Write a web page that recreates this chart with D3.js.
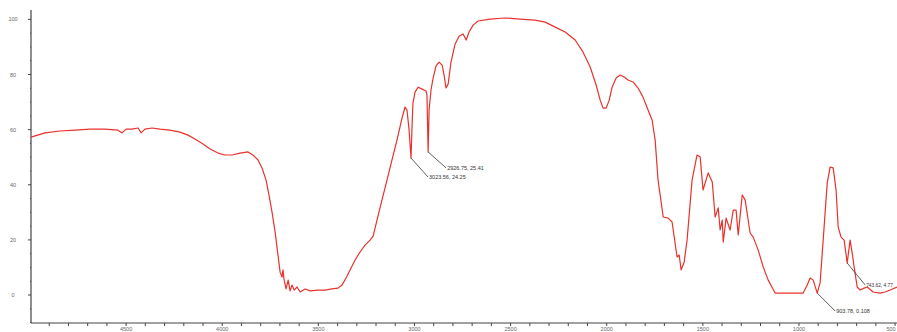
<!DOCTYPE html>
<html>
<head>
<meta charset="utf-8">
<script src="https://cdn.jsdelivr.net/npm/d3@7"></script>
<style>
  html, body { margin: 0; padding: 0; background: #fff; }
  svg { display: block; }
</style>
</head>
<body>
<svg id="chart" width="897" height="332"></svg>
<script>
// Wavenumber (cm-1) and transmittance (%)
const wavenumber = [4995,4922,4844,4766,4688,4610,4542,4521,4500,4469,4438,4422,4402,4365,4324,4272,4220,4178,4142,4100,4063,4022,3985,3949,3907,3866,3840,3814,3793,3772,3757,3741,3725,3710,3699,3689,3684,3678,3668,3657,3647,3637,3626,3611,3595,3569,3543,3501,3465,3429,3398,3377,3356,3335,3309,3283,3257,3231,3215,3195,3169,3143,3117,3091,3065,3049,3039,3028,3018,3013,3008,2997,2981,2960,2940,2935,2929,2924,2914,2903,2888,2872,2856,2846,2836,2825,2810,2789,2768,2747,2731,2716,2695,2669,2607,2529,2451,2373,2320,2268,2216,2164,2123,2086,2055,2034,2019,2003,1987,1972,1951,1930,1909,1889,1863,1837,1811,1785,1764,1748,1733,1706,1680,1660,1634,1623,1613,1597,1582,1556,1530,1514,1499,1472,1451,1436,1420,1410,1399,1394,1379,1358,1342,1327,1316,1295,1280,1254,1238,1212,1186,1160,1124,1046,978,957,942,926,905,890,874,853,838,822,807,796,781,765,749,734,723,713,697,682,661,645,614,578,552,526,489];
const transmittance = [57.3,58.8,59.5,59.8,60.2,60.2,59.8,58.8,60.2,60.2,60.6,58.8,60.2,60.6,60.2,59.8,59.1,58.0,56.6,54.8,53.0,51.5,50.8,50.8,51.5,51.9,50.8,49.0,46.1,41.7,36.3,30.1,22.9,14.5,8.3,6.5,9.1,5.4,2.2,5.4,1.5,3.6,1.8,2.9,1.1,2.2,1.5,1.8,1.8,2.2,2.5,3.6,6.2,9.1,12.7,15.6,18.1,19.9,21.4,27.2,34.5,41.7,49.0,56.2,64.2,68.2,67.1,59.8,49.7,60.6,69.6,73.6,75.4,74.7,74.0,72.5,51.9,67.1,74.4,78.7,83.1,84.5,83.4,79.8,75.1,76.5,84.5,91.0,93.9,94.7,92.5,95.4,97.9,99.4,100.1,100.5,100.1,99.7,99.0,97.2,95.4,92.5,88.1,82.7,76.2,70.7,67.8,67.8,70.7,75.4,78.7,79.8,79.1,78.0,77.3,75.1,71.8,67.1,63.5,56.2,41.7,28.3,27.9,26.5,13.8,14.5,9.1,12.0,19.9,41.7,50.8,50.1,38.1,44.3,41.0,28.3,31.6,23.6,27.2,19.2,27.9,23.6,30.8,30.8,21.8,36.3,34.5,22.5,21.0,16.3,10.2,5.4,0.7,0.7,0.7,3.6,6.2,5.4,0.7,4.4,19.9,40.6,46.4,46.1,38.1,24.7,21.0,19.9,11.6,19.9,15.2,10.2,2.9,1.8,2.5,2.9,1.1,0.7,1.1,1.8,2.9];

const xMajorTicks = [4500, 4000, 3500, 3000, 2500, 2000, 1500, 1000, 500];
const xMinorTicks = d3.range(4900, 499, -100);
const yMajorTicks = [0, 20, 40, 60, 80, 100];
const yMinorTicks = d3.range(-10, 101, 5);

// Peak annotations
const peakWavenumber = [3018, 2929, 905, 749];
const peakValue = [49.7, 51.9, 0.7, 11.6];
const peakLabel = ["3023.56, 24.25", "2926.75, 25.41", "903.78, 0.108", "743.62, 4.77"];

const svg = d3.select("#chart");
const W = 897;
const x = d3.scaleLinear().domain([5000, 490]).range([30, 897]);
const y = d3.scaleLinear().domain([-10.15, 103.4]).range([323, 10]);

const axisColor = "#444";
const textColor = "#666";
const font = "Arial, 'Liberation Sans', sans-serif";

// X axis
const xAxisG = svg.append("g").attr("transform", "translate(0,323)");
xAxisG.append("line").attr("x1", 31).attr("x2", W).attr("stroke", axisColor).attr("stroke-width", 1.2);
xAxisG.selectAll("line.minor").data(xMinorTicks).join("line")
  .attr("class", "minor")
  .attr("x1", d => x(d)).attr("x2", d => x(d))
  .attr("y1", 0).attr("y2", 3)
  .attr("stroke", axisColor).attr("stroke-width", 1);
xAxisG.selectAll("text").data(xMajorTicks).join("text")
  .attr("x", d => Math.min(x(d), W - 6))
  .attr("y", 8)
  .attr("text-anchor", "middle")
  .attr("font-family", font)
  .attr("font-size", 5.5)
  .attr("fill", textColor)
  .text(d => d);

// Y axis
const yAxisG = svg.append("g").attr("transform", "translate(31,0)");
yAxisG.append("line").attr("y1", 10).attr("y2", 323).attr("stroke", axisColor).attr("stroke-width", 1.2);
yAxisG.selectAll("line.minor").data(yMinorTicks).join("line")
  .attr("class", "minor")
  .attr("x1", d => yMajorTicks.includes(d) ? -3 : -1).attr("x2", 0)
  .attr("y1", d => y(d)).attr("y2", d => y(d))
  .attr("stroke", axisColor).attr("stroke-width", 1);
yAxisG.selectAll("text").data(yMajorTicks).join("text")
  .attr("x", -18).attr("y", d => y(d) + 2)
  .attr("text-anchor", "middle")
  .attr("font-family", font)
  .attr("font-size", 5.5)
  .attr("fill", textColor)
  .text(d => d);

// Spectrum line
const pts = wavenumber.map((w, i) => [w, transmittance[i]]);
const line = d3.line().x(d => x(d[0])).y(d => y(d[1])).curve(d3.curveLinear);
svg.append("path")
  .datum(pts)
  .attr("d", line)
  .attr("fill", "none")
  .attr("stroke", "#e8322c")
  .attr("stroke-width", 1.2)
  .attr("stroke-linejoin", "round");

// Annotations
const offs = [[17, 19], [18, 16], [18, 18], [18, 22]];
peakWavenumber.forEach((w, i) => {
  const px = x(w), py = y(peakValue[i]);
  const ex = px + offs[i][0], ey = py + offs[i][1];
  svg.append("line").attr("x1", px).attr("y1", py).attr("x2", ex).attr("y2", ey)
    .attr("stroke", "#333").attr("stroke-width", 0.8);
  svg.append("text").attr("x", ex + 1).attr("y", ey + 2)
    .attr("font-family", font)
    .attr("font-size", i === 3 ? 4.8 : 5.5)
    .attr("fill", "#333")
    .text(peakLabel[i]);
});
</script>
</body>
</html>
